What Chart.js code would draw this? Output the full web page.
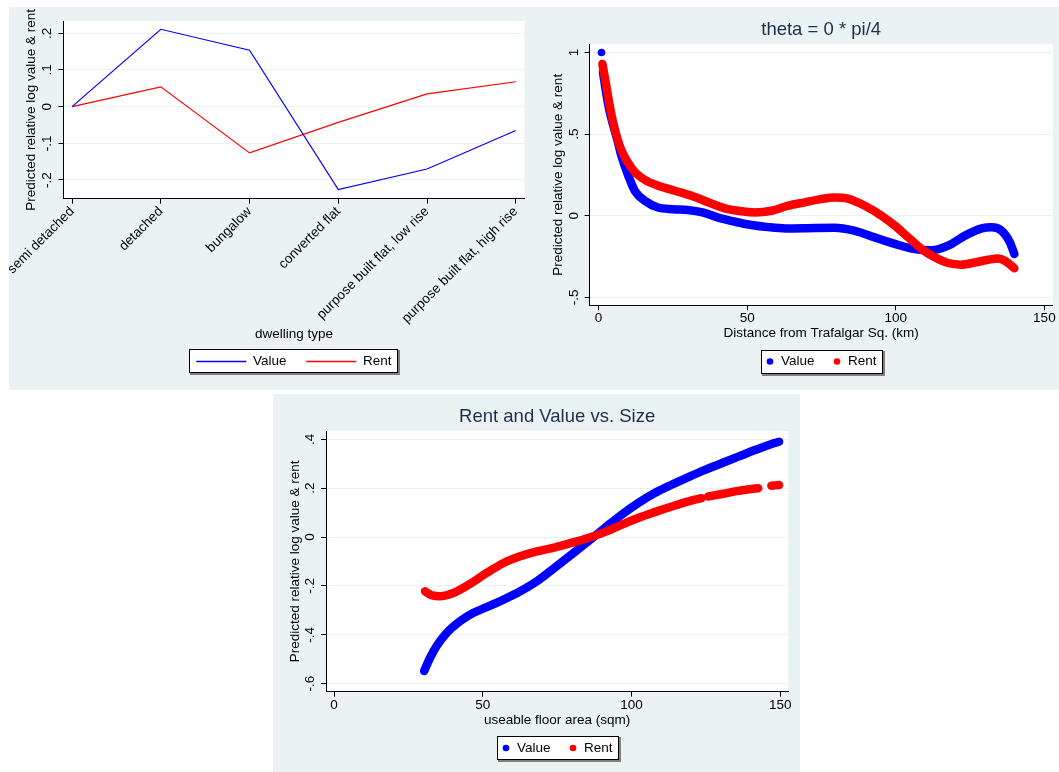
<!DOCTYPE html>
<html>
<head>
<meta charset="utf-8">
<script src="https://cdn.jsdelivr.net/npm/chart.js@4.4.1/dist/chart.umd.min.js"></script>
<style>
html, body { margin: 0; padding: 0; background: #fff; }
body { width: 1059px; height: 772px; position: relative; overflow: hidden; }
.panel { position: absolute; background: #eaf2f3; }
canvas { position: absolute; }
</style>
</head>
<body>
<div class="panel" style="left:9px;top:7px;width:1050px;height:383px"></div>
<div class="panel" style="left:273px;top:394px;width:527px;height:378px"></div>
<canvas id="typechart" style="left:9px;top:7px;width:529px;height:383px" width="529" height="383"></canvas>
<canvas id="distchart" style="left:538px;top:7px;width:521px;height:383px" width="521" height="383"></canvas>
<canvas id="sizechart" style="left:273px;top:394px;width:527px;height:378px" width="527" height="378"></canvas>
<script>
// dwelling type panel
const dwellingTypes = ['semi detached', 'detached', 'bungalow', 'converted flat',
    'purpose built flat, low rise', 'purpose built flat, high rise'];
const typeValue = [0, 0.211, 0.154, -0.226, -0.170, -0.065];
const typeRent = [0, 0.054, -0.126, -0.043, 0.035, 0.068];

// distance panel (null = gap)
const distValueX = [1, 1.2, 1.5, 2.5, 3.6, 5, 6.4, 7.8, 9.8, 12.3, 15.7, 20, 25, 30, 35, 40, 46, 51.5, 57, 63,
    73, 79.4, 86, 92.9, 99.7, 106.4, 112, 117.6, 123.3, 128.9, 132.2, 135.6, 138.4, 139.9];
const distValueY = [1.0, null, 0.88, 0.76, 0.65, 0.55, 0.46, 0.36, 0.255, 0.15, 0.09, 0.05, 0.04, 0.035, 0.02, -0.01, -0.037, -0.057, -0.07, -0.078,
    -0.075, -0.074, -0.092, -0.133, -0.173, -0.205, -0.212, -0.184, -0.122, -0.078, -0.071, -0.092, -0.163, -0.235];
const distRentX = [1.3, 2.5, 3.9, 5.6, 7.3, 9.5, 12.3, 15.7, 20.1, 25.7, 31.3, 36.9, 42.5, 48.1, 52.6, 58.2, 63.8, 69.4,
    74.4, 79.4, 83.9, 89.6, 95.2, 99.7, 104.2, 108.7, 113.1, 117.6, 122.1, 126.6, 131.1, 134.5, 136.7, 139.9];
const distRentY = [0.93, 0.81, 0.66, 0.52, 0.42, 0.337, 0.265, 0.218, 0.184, 0.153, 0.122, 0.082, 0.045, 0.027, 0.02, 0.03, 0.061, 0.082,
    0.1, 0.112, 0.105, 0.061, 0.0, -0.061, -0.133, -0.204, -0.255, -0.29, -0.3, -0.287, -0.27, -0.262, -0.276, -0.322];
const distTicks = [0, 50, 100, 150];

// floor area panel
const sizeValueX = [30.3, 32.3, 34.5, 37.9, 42.4, 46.9, 51.3, 57, 62.6, 68.2, 74, 79.8, 85.4, 91, 96.6, 102.2,
    107.8, 113.5, 119.1, 124.7, 130.3, 135.9, 141.5, 147.1, 149.6];
const sizeValueY = [-0.548, -0.494, -0.446, -0.392, -0.344, -0.31, -0.287, -0.256, -0.222, -0.181, -0.127, -0.072, -0.018, 0.037, 0.091, 0.139,
    0.18, 0.214, 0.245, 0.275, 0.302, 0.329, 0.356, 0.381, 0.39];
const sizeRentX = [30.6, 32.8, 35.7, 40.1, 45.7, 51.3, 57, 62.6, 68.2, 74, 79.8, 85.4, 91, 96.6, 102.2, 107.8,
    113.5, 119.1, 123.5, 124.6, 125.8, 130.3, 135.9, 142.6, 144.5, 147, 149.6];
const sizeRentY = [-0.222, -0.238, -0.242, -0.229, -0.192, -0.147, -0.106, -0.079, -0.059, -0.043, -0.024, -0.004, 0.02, 0.05, 0.078, 0.102,
    0.125, 0.146, 0.159, null, 0.166, 0.176, 0.189, 0.2, null, 0.21, 0.213];

const blue = '#0000ff';
const red = '#ff0000';
const fontFamily = '"Liberation Sans", Arial, Helvetica, sans-serif';
const font = { family: fontFamily, size: 13.5 };
Chart.defaults.font.family = fontFamily;

function toPts(xs, ys) {
    return xs.map((x, i) => ({ x: x, y: ys[i] }));
}

// stata style: .5, -.2
function stataTick(v) {
    const r = Math.round(v * 1000) / 1000;
    return String(r).replace(/^(-?)0\./, '$1.');
}

// white plot region + legend frame
const stataBits = {
    id: 'stataBits',
    beforeDraw(chart, args, opts) {
        const ctx = chart.ctx, a = chart.chartArea;
        ctx.save();
        ctx.fillStyle = '#ffffff';
        ctx.fillRect(a.left, a.top, a.right - a.left, a.bottom - a.top);
        const boxes = chart.legend && chart.legend.legendHitBoxes;
        if (boxes && boxes.length) {
            const first = boxes[0], last = boxes[boxes.length - 1];
            const x0 = Math.round(first.left - opts.padLeft);
            const x1 = Math.round(last.left + last.width + opts.padRight);
            const cy = first.top + first.height / 2;
            const y0 = Math.round(cy - 12), y1 = Math.round(cy + 12);
            ctx.fillStyle = '#7f7f7f';
            ctx.fillRect(x0 + 1, y0 + 1, x1 - x0 + 1, y1 - y0 + 1);
            ctx.fillStyle = '#ffffff';
            ctx.fillRect(x0, y0, x1 - x0, y1 - y0);
            ctx.strokeStyle = '#000000';
            ctx.lineWidth = 1;
            ctx.strokeRect(x0 + 0.5, y0 + 0.5, x1 - x0 - 1, y1 - y0 - 1);
        }
        ctx.restore();
    }
};

function yAxis(min, max, step, widthPx, titlePad, tickPad) {
    return {
        type: 'linear', min: min, max: max,
        afterFit: s => { s.width = widthPx; },
        ticks: {
            stepSize: step, includeBounds: false, minRotation: 90, maxRotation: 90,
            crossAlign: 'center', padding: tickPad, color: '#000', font: font, callback: stataTick
        },
        grid: { color: '#eaf2f3', lineWidth: 1, tickColor: '#000', tickLength: 5 },
        border: { display: true, color: '#000', width: 1 },
        title: {
            display: true, text: 'Predicted relative log value & rent', color: '#000', font: font,
            padding: { top: titlePad, bottom: 0 }
        }
    };
}

function xAxis(min, max, step, heightPx, text, titlePad, labelFn, rot) {
    return {
        type: 'linear', min: min, max: max,
        afterFit: s => { s.height = heightPx; },
        ticks: {
            stepSize: step, includeBounds: false, minRotation: rot, maxRotation: rot, autoSkip: false,
            padding: 0, color: '#000', font: font, callback: labelFn
        },
        grid: { drawOnChartArea: false, tickColor: '#000', tickLength: 5 },
        border: { display: true, color: '#000', width: 1 },
        title: { display: true, text: text, color: '#000', font: font, padding: { top: 0, bottom: titlePad } }
    };
}

function dotLegend() {
    return {
        position: 'bottom', fullSize: false,
        labels: {
            usePointStyle: true, boxWidth: 8.5, boxHeight: 4.7, padding: 18.25, color: '#000', font: font,
            generateLabels: chart => chart.data.datasets.map((d, i) => ({
                text: d.label, datasetIndex: i, pointStyle: 'circle', fillStyle: d.borderColor,
                strokeStyle: d.borderColor, lineWidth: 0, hidden: false
            }))
        }
    };
}

function titleOpts(text, padTop) {
    return {
        display: true, text: text, fullSize: false, color: '#1e2d4a',
        font: { family: fontFamily, size: 18.5, weight: 'normal' },
        padding: { top: padTop, bottom: 3.2 }
    };
}

function thickSeries(label, pts, color, order, firstDot) {
    return {
        label: label, data: pts, showLine: true, order: order,
        borderColor: color, backgroundColor: color, borderWidth: 8.5,
        borderCapStyle: 'round', borderJoinStyle: 'round',
        cubicInterpolationMode: 'monotone', spanGaps: false,
        pointRadius: c => (firstDot && c.dataIndex === 0 ? 3.8 : 0),
        pointBorderWidth: 0
    };
}

// dwelling type chart
new Chart(document.getElementById('typechart'), {
    type: 'scatter',
    data: {
        datasets: [
            { label: 'Value', data: typeValue.map((v, i) => ({ x: i, y: v })), showLine: true,
              borderColor: blue, backgroundColor: blue, borderWidth: 1.2, pointRadius: 0, tension: 0 },
            { label: 'Rent', data: typeRent.map((v, i) => ({ x: i, y: v })), showLine: true,
              borderColor: red, backgroundColor: red, borderWidth: 1.2, pointRadius: 0, tension: 0 }
        ]
    },
    options: {
        responsive: false, animation: false, devicePixelRatio: 1,
        layout: { padding: { top: 14, right: 13.6, bottom: 11.75, left: 0 } },
        scales: {
            x: xAxis(-0.097, 5.097, 1, 136.35, 'dwelling type', -7.5, v => dwellingTypes[v], 45),
            y: yAxis(-0.251, 0.2336, 0.1, 53, 13.2, 3.6)
        },
        plugins: {
            tooltip: { enabled: false },
            stataBits: { padLeft: 7.3, padRight: 6 },
            legend: {
                position: 'bottom', fullSize: false,
                labels: {
                    usePointStyle: false, boxWidth: 50, boxHeight: 1.3, padding: 19.7, color: '#000', font: font,
                    generateLabels: chart => chart.data.datasets.map((d, i) => ({
                        text: d.label, datasetIndex: i, fillStyle: d.borderColor,
                        strokeStyle: d.borderColor, lineWidth: 0, hidden: false
                    }))
                }
            }
        }
    },
    plugins: [stataBits]
});

// distance chart
new Chart(document.getElementById('distchart'), {
    type: 'scatter',
    data: {
        datasets: [
            thickSeries('Value', toPts(distValueX, distValueY), blue, 1, true),
            thickSeries('Rent', toPts(distRentX, distRentY), red, 0, false)
        ]
    },
    options: {
        responsive: false, animation: false, devicePixelRatio: 1,
        layout: { padding: { top: 0, right: 6.3, bottom: 11.75, left: 0 } },
        scales: {
            x: xAxis(-3, 152.8, 50, 31.2, 'Distance from Trafalgar Sq. (km)', -4.6,
                v => (distTicks.includes(v) ? String(v) : ''), 0),
            y: yAxis(-0.549, 1.05, 0.5, 51.6, 12.6, 2.7)
        },
        plugins: {
            tooltip: { enabled: false },
            title: titleOpts('theta = 0 * pi/4', 11.9),
            stataBits: { padLeft: 5, padRight: 6.5 },
            legend: dotLegend()
        }
    },
    plugins: [stataBits]
});

// floor area chart
new Chart(document.getElementById('sizechart'), {
    type: 'scatter',
    data: {
        datasets: [
            thickSeries('Value', toPts(sizeValueX, sizeValueY), blue, 1, false),
            thickSeries('Rent', toPts(sizeRentX, sizeRentY), red, 0, false)
        ]
    },
    options: {
        responsive: false, animation: false, devicePixelRatio: 1,
        layout: { padding: { top: 0, right: 11.7, bottom: 7.25, left: 0 } },
        scales: {
            x: xAxis(-2.69, 152.7, 50, 31.3, 'useable floor area (sqm)', -5.8,
                v => String(v), 0),
            y: yAxis(-0.633, 0.434, 0.2, 53, 13.7, 2.5)
        },
        plugins: {
            tooltip: { enabled: false },
            title: titleOpts('Rent and Value vs. Size', 11.6),
            stataBits: { padLeft: 5, padRight: 6.5 },
            legend: dotLegend()
        }
    },
    plugins: [stataBits]
});
</script>
</body>
</html>
